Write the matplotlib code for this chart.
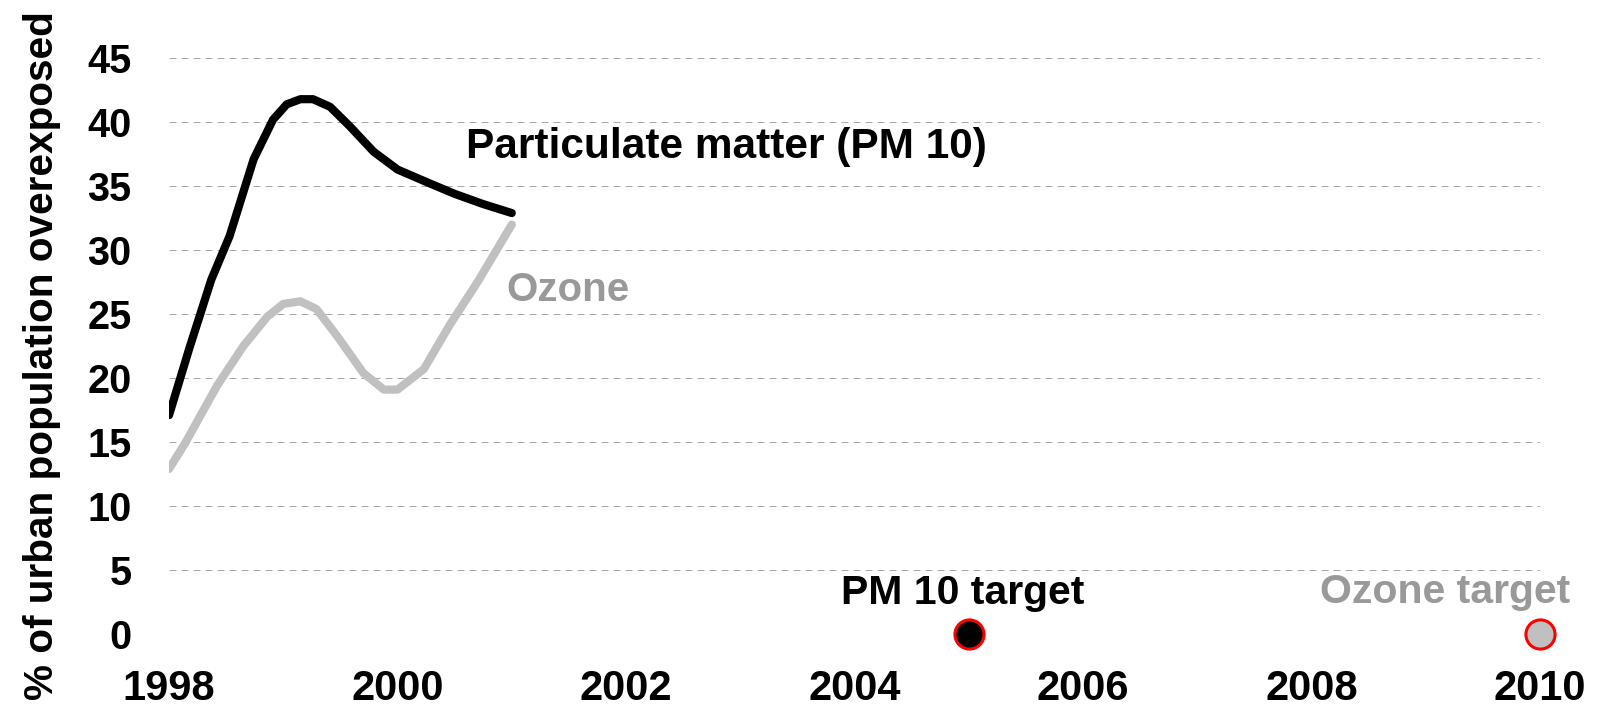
import matplotlib.pyplot as plt

plt.rcParams['font.family'] = ['Liberation Sans', 'DejaVu Sans']
plt.rcParams['font.weight'] = 'bold'

# curve points (smoothed lines)
pm_years = [1998.0, 1998.18, 1998.37, 1998.53, 1998.74, 1998.91, 1999.03, 1999.15,
            1999.26, 1999.41, 1999.58, 1999.79, 2000.0, 2000.26, 2000.5, 2000.75, 2001.0]
pm_values = [17.1, 22.4, 27.7, 31.1, 37.1, 40.2, 41.4, 41.8,
             41.8, 41.2, 39.7, 37.7, 36.3, 35.3, 34.4, 33.6, 32.9]

ozone_years = [1998.0, 1998.14, 1998.42, 1998.65, 1998.86, 1999.0, 1999.15, 1999.29,
               1999.47, 1999.7, 1999.88, 2000.0, 2000.23, 2000.46, 2000.7, 2001.0]
ozone_values = [12.9, 14.9, 19.4, 22.5, 24.8, 25.8, 26.0, 25.4,
                23.3, 20.4, 19.1, 19.1, 20.7, 24.2, 27.5, 32.0]

target_years = [2005, 2010]
target_values = [0, 0]
target_names = ['PM 10 target', 'Ozone target']

x_ticks = [1998, 2000, 2002, 2004, 2006, 2008, 2010]
y_ticks = [0, 5, 10, 15, 20, 25, 30, 35, 40, 45]

fig = plt.figure(figsize=(16.07, 7.12), dpi=100)
ax = fig.add_axes([0.1052, 0.1096, 0.8531, 0.8086])

ax.plot(ozone_years, ozone_values, color='#c0c0c0', lw=5.9,
        solid_capstyle='round', solid_joinstyle='round', zorder=3)
ax.plot(pm_years, pm_values, color='black', lw=5.9,
        solid_capstyle='round', solid_joinstyle='round', zorder=4)

# targets
ax.plot(target_years[0], target_values[0], 'o', ms=21, mfc='black', mec='red',
        mew=2.2, clip_on=False, zorder=5)
ax.plot(target_years[1], target_values[1], 'o', ms=21, mfc='#c0c0c0', mec='red',
        mew=2.2, clip_on=False, zorder=5)

ax.text(2000.6, 37.2, 'Particulate matter (PM 10)', fontsize=30.5, fontweight='bold',
        color='black', ha='left', va='baseline')
ax.text(2000.95, 26.0, 'Ozone', fontsize=29, fontweight='bold',
        color='#999999', ha='left', va='baseline')
ax.text(2004.95, 2.35, target_names[0], fontsize=29.5, fontweight='bold',
        color='black', ha='center', va='baseline')
ax.text(2009.17, 2.4, target_names[1], fontsize=29.5, fontweight='bold',
        color='#999999', ha='center', va='baseline')

ax.set_xlim(1998, 2010)
ax.set_ylim(0, 45)
ax.set_xticks(x_ticks)
ax.set_yticks(y_ticks)
ax.tick_params(axis='both', length=0)
ax.tick_params(axis='x', pad=25, labelsize=30)
ax.tick_params(axis='y', pad=27, labelsize=28.5)
for lab in ax.get_xticklabels() + ax.get_yticklabels():
    lab.set_fontweight('bold')

ax.grid(axis='y', color='#a8a8a8', lw=0.72, dashes=(7, 5))
ax.grid(axis='x', visible=False)
for s in ax.spines.values():
    s.set_visible(False)

fig.text(42 / 1607, 1 - 356 / 712, '% of urban population overexposed', rotation=90,
         fontsize=29.2, fontweight='bold', ha='center', va='center')

fig.savefig('out.png', dpi=100)
